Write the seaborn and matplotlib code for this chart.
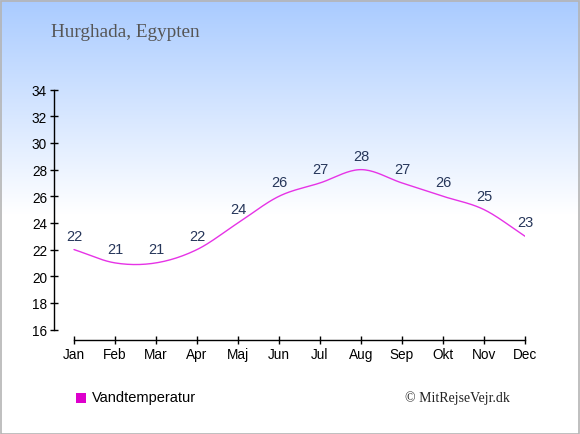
import numpy as np
import matplotlib
matplotlib.use("Agg")
import matplotlib.pyplot as plt
import seaborn as sns
import pandas as pd

# -----------------------------
# Data
# -----------------------------
months = ["Jan", "Feb", "Mar", "Apr", "Maj", "Jun", "Jul", "Aug", "Sep", "Okt", "Nov", "Dec"]
water_temp = [22, 21, 21, 22, 24, 26, 27, 28, 27, 26, 25, 23]
y_ticks = [16, 18, 20, 22, 24, 26, 28, 30, 32, 34]

TITLE = "Hurghada, Egypten"
LEGEND_LABEL = "Vandtemperatur"
CREDIT = "\u00a9 MitRejseVejr.dk"
LINE_COLOR = "#e633e6"
LABEL_COLOR = "#26365a"


def smooth(xs, ys, n=20):
    # Hermite rendering of the curve between the data points
    xs = np.asarray(xs, float)
    ys = np.asarray(ys, float)
    m = np.gradient(ys, xs)
    out_x, out_y = [], []
    for i in range(len(xs) - 1):
        t = np.linspace(0, 1, n, endpoint=False)
        h = xs[i + 1] - xs[i]
        h00 = 2 * t**3 - 3 * t**2 + 1
        h10 = t**3 - 2 * t**2 + t
        h01 = -2 * t**3 + 3 * t**2
        h11 = t**3 - t**2
        out_x.extend(xs[i] + t * h)
        out_y.extend(h00 * ys[i] + h10 * h * m[i] + h01 * ys[i + 1] + h11 * h * m[i + 1])
    out_x.append(xs[-1])
    out_y.append(ys[-1])
    return np.array(out_x), np.array(out_y)


def main():
    sns.set_theme(style="white")
    plt.rcParams["font.family"] = ["Liberation Sans", "DejaVu Sans"]

    W, H = 580, 435
    fig = plt.figure(figsize=(W / 100, H / 100), dpi=100)

    # background gradient
    bg = fig.add_axes([0, 0, 1, 1], zorder=-10)
    grad = np.ones((H, 1, 3))
    top = np.array([0xa9, 0xcb, 0xff]) / 255.0
    fade_end = 215
    for r in range(H):
        f = min(r / fade_end, 1.0)
        grad[r, 0, :] = top * (1 - f) + np.ones(3) * f
    bg.imshow(grad, aspect="auto", extent=[0, 1, 0, 1])
    bg.set_axis_off()
    fig.patches.append(plt.Rectangle((0.5 / W, 0.5 / H), 1 - 2 / W, 1 - 2 / H,
                                     transform=fig.transFigure, fill=False,
                                     edgecolor="#b4b4b4", lw=1.2, zorder=10))

    # plot axes
    left, right, top_px, bottom_px = 54, 525, 90.7, 341
    ax = fig.add_axes([left / W, 1 - bottom_px / H, (right - left) / W, (bottom_px - top_px) / H])
    ax.patch.set_alpha(0)

    df = pd.DataFrame({"x": np.arange(len(months)), "temp": water_temp})
    sx, sy = smooth(df["x"], df["temp"])
    sns.lineplot(x=sx, y=sy, ax=ax, color=LINE_COLOR, lw=1.0, sort=False)

    for xi, v in zip(df["x"], df["temp"]):
        ax.annotate(str(v), (xi, v), xytext=(0, 10), textcoords="offset points",
                    ha="center", va="center", color=LABEL_COLOR, fontsize=10.5)

    px_per_month = (right - 74) / 11
    ax.set_xlim(-(74 - left) / px_per_month, 11)
    px_per_unit = (330.5 - top_px) / 18
    ax.set_ylim(16 - (bottom_px - 330.5) / px_per_unit, 34)

    ax.set_xticks(df["x"])
    ax.set_xticklabels(months)
    ax.set_yticks(y_ticks)
    ax.set_yticklabels([str(t) for t in y_ticks])

    for s in ["top", "right"]:
        ax.spines[s].set_visible(False)
    for s in ["left", "bottom"]:
        ax.spines[s].set_color("black")
        ax.spines[s].set_linewidth(1.0)
    ax.spines["left"].set_bounds(16, 34)
    ax.spines["bottom"].set_bounds(0, 11)
    ax.tick_params(axis="both", direction="inout", length=6, width=1, color="black",
                   labelsize=9.8, labelcolor="black", pad=2, left=True, bottom=True)
    ax.set_xlabel("")
    ax.set_ylabel("")

    # title, legend, credit
    fig.text(51 / W, 1 - 32.5 / H, TITLE, fontsize=13.8, color="#555555",
             family=["Liberation Serif", "DejaVu Serif"], va="center", ha="left")
    fig.patches.append(plt.Rectangle((76 / W, 1 - 404 / H), 10 / W, 10 / H,
                                     transform=fig.transFigure, facecolor="#dd00cc",
                                     edgecolor="none"))
    fig.text(92 / W, 1 - 398.5 / H, LEGEND_LABEL, fontsize=10.5, color="black",
             va="center", ha="left")
    fig.text(510 / W, 1 - 398 / H, CREDIT, fontsize=10, color="#222222",
             family=["Liberation Serif", "DejaVu Serif"], va="center", ha="right")

    fig.savefig("out.png", dpi=100)


if __name__ == "__main__":
    main()
